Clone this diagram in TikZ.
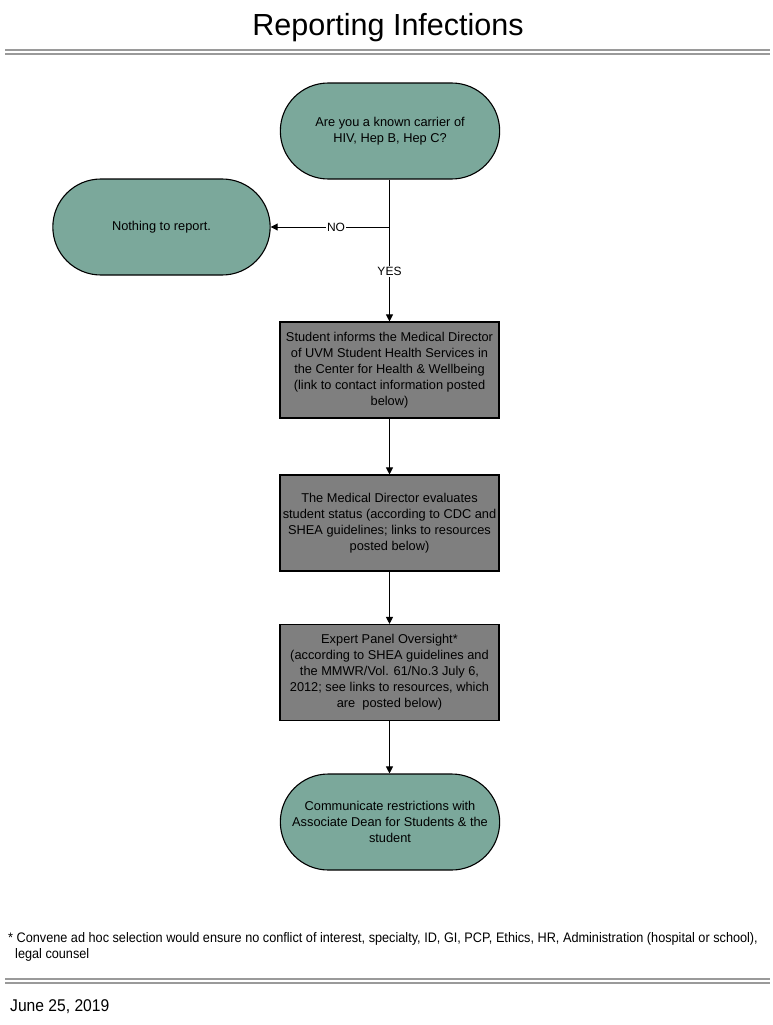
\documentclass[tikz,border=0pt]{standalone}
\usepackage{fontspec}
\setmainfont{Liberation Sans}
\newfontfamily\condfont{Liberation Sans}[FakeStretch=0.92]
\usetikzlibrary{shapes.misc,arrows.meta}
\definecolor{teal1}{HTML}{7BA89B}
\definecolor{grey1}{HTML}{7F7F7F}
\definecolor{rule1}{HTML}{9A9A9A}
\begin{document}
\begin{tikzpicture}[x=1pt,y=-1pt,
  term/.style={draw=black,line width=1.1pt,fill=teal1,rounded rectangle,minimum width=226pt,minimum height=96pt,align=center,font=\fontsize{12.8}{16}\selectfont},
  proc/.style={draw=black,line width=1.1pt,fill=grey1,rectangle,minimum width=219pt,minimum height=96pt,align=center,font=\fontsize{12.8}{16}\selectfont,inner sep=2pt},
  conn/.style={draw=black,line width=1pt},
  arr/.style={conn,-{Triangle[length=7pt,width=7pt]}},
  lbl/.style={fill=white,inner sep=1pt,font=\fontsize{12}{14}\selectfont}]
\useasboundingbox (0,0) rectangle (773,1025);
\node (title) at (388,28) {\fontsize{30.5}{34}\selectfont Reporting Infections};
\draw[rule1,line width=1.3pt] (5,50) coordinate (r1a) -- (770,50) coordinate (r1b);
\draw[rule1,line width=1.3pt] (5,54) coordinate (r2a) -- (770,54) coordinate (r2b);
\node[term] (start) at (390,131) {Are you a known carrier of\\HIV, Hep B, Hep C?};
\node[term,minimum width=224pt] (nothing) at (161.5,227) {Nothing to report.};
\node[proc] (b1) at (389.5,370) {Student informs the Medical Director\\of UVM Student Health Services in\\the Center for Health \& Wellbeing\\(link to contact information posted\\below)};
\node[proc] (b2) at (389.5,523) {The Medical Director evaluates\\student status (according to CDC and\\SHEA guidelines; links to resources\\posted below)};
\node[proc] (b3) at (389.5,672.5) {Expert Panel Oversight*\\(according to SHEA guidelines and\\the MMWR/Vol. 61/No.3 July 6,\\2012; see links to resources, which\\are~ posted below)};
\node[term] (end) at (390,822) {Communicate restrictions with\\Associate Dean for Students \& the\\student};
\coordinate (j) at (389.5,227);
\draw[conn] (start.south -| j) -- (j);
\draw[arr] (j) -- node[lbl,pos=0.45]{NO} (nothing.east);
\draw[arr] (j) -- node[lbl,pos=0.47]{YES} (b1.north);
\draw[arr] (b1) -- (b2);
\draw[arr] (b2) -- (b3);
\draw[arr] (b3.south) -- (b3.south |- end.north);
\node[anchor=north west,inner sep=0pt,align=left,font=\condfont\fontsize{13.8}{16}\selectfont] (foot) at (8,932) {* Convene ad hoc selection would ensure no conflict of interest, specialty, ID, GI, PCP, Ethics, HR, Administration (hospital or school),\\\hspace*{7pt}legal counsel};
\draw[rule1,line width=1.3pt] (5,979) coordinate (r3a) -- (770,979) coordinate (r3b);
\draw[rule1,line width=1.3pt] (5,983) coordinate (r4a) -- (770,983) coordinate (r4b);
\node[anchor=west,inner sep=0pt,font=\condfont\fontsize{17}{19}\selectfont] (date) at (10,1007) {June 25, 2019};
\end{tikzpicture}
\end{document}
